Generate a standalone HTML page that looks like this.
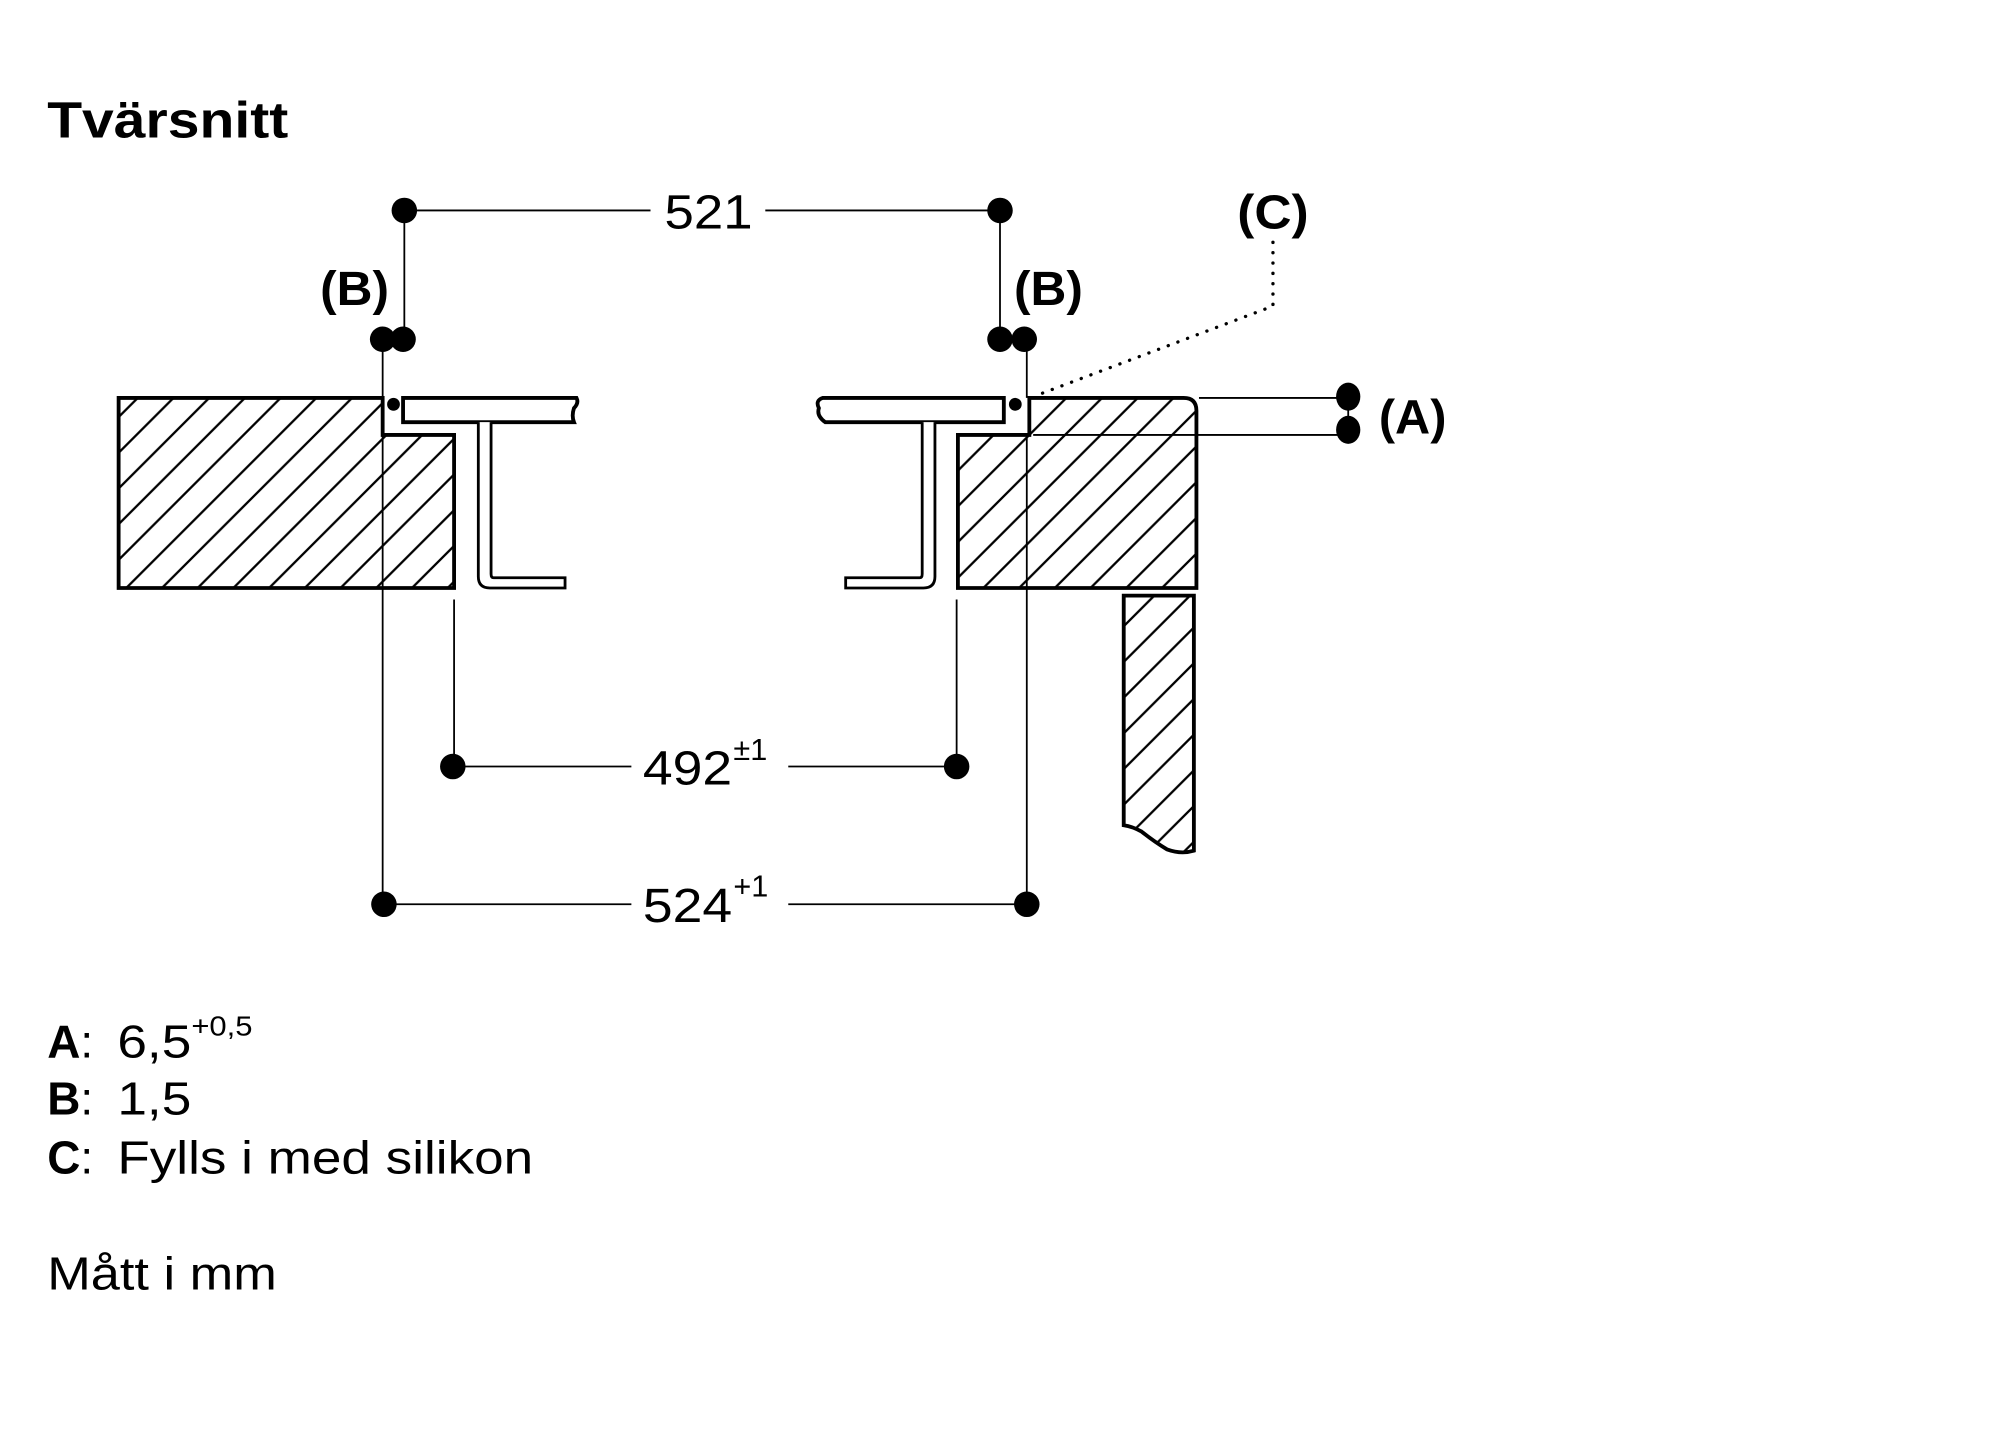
<!DOCTYPE html>
<html><head><meta charset="utf-8"><style>
html,body{margin:0;padding:0;background:#fff;}
svg{display:block;}
text{font-family:"Liberation Sans",sans-serif;fill:#000;}
</style></head><body>
<svg width="2000" height="1454" viewBox="0 0 1568 1140" preserveAspectRatio="none" xmlns="http://www.w3.org/2000/svg">
<defs>
<pattern id="h" patternUnits="userSpaceOnUse" width="28" height="28">
<path d="M-2,2 L2,-2 M-2,30 L30,-2 M26,30 L30,26" stroke="#000" stroke-width="1.8" fill="none"/>
</pattern>
</defs>
<text x="37" y="108" font-size="40" font-weight="bold" textLength="189" lengthAdjust="spacingAndGlyphs">Tvärsnitt</text>

<path d="M93,312 H300 V341 H356 V461 H93 Z" fill="url(#h)" stroke="#000" stroke-width="3"/>
<path d="M316,312 H452 Q454,316 450,320 Q448,326 450,331 H316 Z" fill="#fff" stroke="#000" stroke-width="3"/>
<path d="M375,331 V452 Q375,461 384,461 H443 V453 H387 Q385,453 385,450 V331" fill="#fff" stroke="#000" stroke-width="2.2"/>
<circle cx="308.5" cy="317" r="5" fill="#000"/>

<path d="M807,312 H928 Q938,312 938,322 V461 H751 V341 H807 Z" fill="url(#h)" stroke="#000" stroke-width="3"/>
<path d="M787,312 H645 Q639,314 642,320 Q640,326 647,331 H787 Z" fill="#fff" stroke="#000" stroke-width="3"/>
<path d="M733,331 V452 Q733,461 724,461 H663 V453 H721 Q723,453 723,450 V331" fill="#fff" stroke="#000" stroke-width="2.2"/>
<circle cx="796" cy="317" r="5" fill="#000"/>

<path d="M881,467 H936 V667 Q926,670 915,666 Q905,660 895,652 Q888,648 881,647 Z" fill="url(#h)" stroke="#000" stroke-width="3"/>

<g stroke="#000" stroke-width="1.4" fill="none">
<path d="M317,165 H510 M600,165 H784"/>
<path d="M317,165 V266 M784,165 V266"/>
<path d="M300,266 V312 M300,341 V709"/>
<path d="M805,266 V312 M805,341 V709"/>
<path d="M356,470 V601 M750,470 V601"/>
<path d="M355,601 H495 M618,601 H750"/>
<path d="M301,709 H495 M618,709 H805"/>
<path d="M940,312 H1057 M810,341 H1057 M1057,311 V337"/>
</g>
<path d="M998,190 V240 L810,311" stroke="#000" stroke-width="2.6" fill="none" stroke-dasharray="0.1 8" stroke-linecap="round"/>

<g fill="#000">
<circle cx="317" cy="165" r="10"/><circle cx="784" cy="165" r="10"/>
<circle cx="300" cy="266" r="10"/><circle cx="316" cy="266" r="10"/>
<circle cx="784" cy="266" r="10"/><circle cx="803" cy="266" r="10"/>
<circle cx="355" cy="601" r="10"/><circle cx="750" cy="601" r="10"/>
<circle cx="301" cy="709" r="10"/><circle cx="805" cy="709" r="10"/>
<ellipse cx="1057" cy="311" rx="9.5" ry="11"/><ellipse cx="1057" cy="337" rx="9.5" ry="11"/>
</g>

<g font-size="38">
<text x="521" y="179" textLength="69" lengthAdjust="spacingAndGlyphs">521</text>
<text x="504" y="615" textLength="70" lengthAdjust="spacingAndGlyphs">492</text>
<text x="575" y="596" font-size="24">±1</text>
<text x="504" y="723" textLength="70" lengthAdjust="spacingAndGlyphs">524</text>
<text x="575" y="703" font-size="24">+1</text>
<text x="251" y="239" font-weight="bold" textLength="54" lengthAdjust="spacingAndGlyphs">(B)</text>
<text x="795" y="239" font-weight="bold" textLength="54" lengthAdjust="spacingAndGlyphs">(B)</text>
<text x="970" y="179" font-weight="bold" textLength="56" lengthAdjust="spacingAndGlyphs">(C)</text>
<text x="1081" y="340" font-weight="bold" textLength="53" lengthAdjust="spacingAndGlyphs">(A)</text>
</g>

<g font-size="36">
<text x="37" y="829"><tspan font-weight="bold">A</tspan>:</text>
<text x="92" y="829" textLength="58" lengthAdjust="spacingAndGlyphs">6,5</text>
<text x="150" y="812" font-size="22" textLength="48" lengthAdjust="spacingAndGlyphs">+0,5</text>
<text x="37" y="874"><tspan font-weight="bold">B</tspan>:</text>
<text x="92" y="874" textLength="58" lengthAdjust="spacingAndGlyphs">1,5</text>
<text x="37" y="920"><tspan font-weight="bold">C</tspan>:</text>
<text x="92" y="920" textLength="326" lengthAdjust="spacingAndGlyphs">Fylls i med silikon</text>
<text x="37" y="1011" textLength="180" lengthAdjust="spacingAndGlyphs">Mått i mm</text>
</g>
</svg>
</body></html>
